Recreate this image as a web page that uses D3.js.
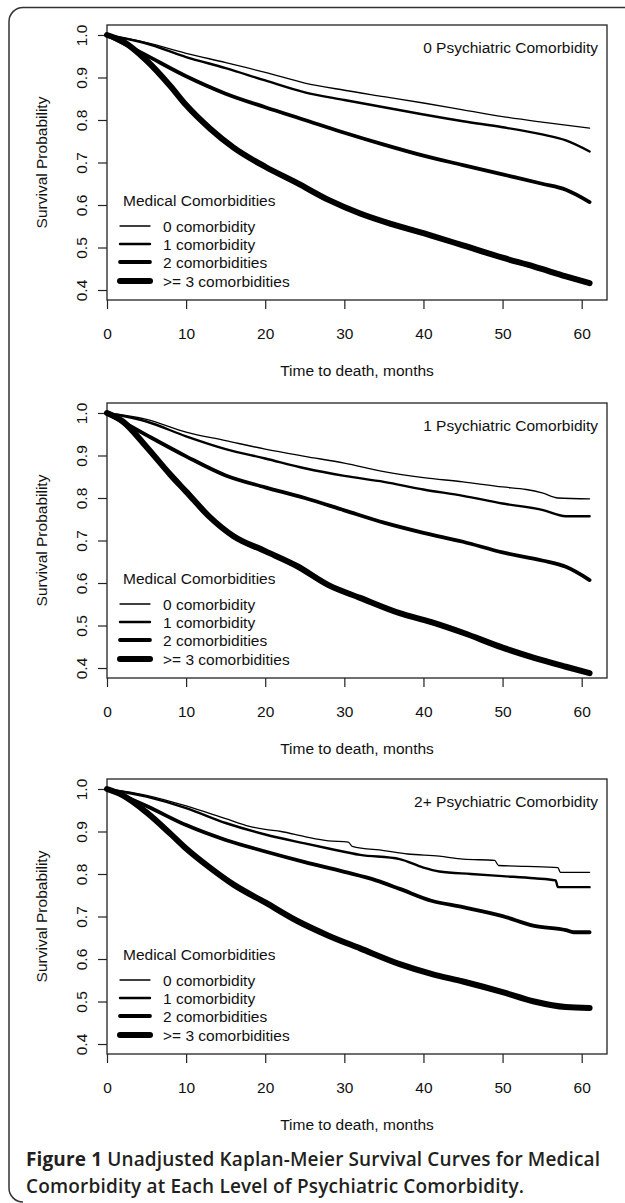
<!DOCTYPE html>
<html>
<head>
<meta charset="utf-8">
<script src="https://cdn.jsdelivr.net/npm/d3@7"></script>
<style>
body { margin:0; background:#fff; }
svg { display:block; }
</style>
</head>
<body>
<div id="chart"></div>
<script>
// panel titles, legend labels, ticks
let panelTitles = ["0 Psychiatric Comorbidity", "1 Psychiatric Comorbidity", "2+ Psychiatric Comorbidity"];
let legendTitle = "Medical Comorbidities";
let legendLabels = ["0 comorbidity", "1 comorbidity", "2 comorbidities", ">= 3 comorbidities"];
let xTicks = [0, 10, 20, 30, 40, 50, 60];
let yTicks = [0.4, 0.5, 0.6, 0.7, 0.8, 0.9, 1.0];

// [month, survival probability]
// 0 psychiatric comorbidity
let psy0med0 = [[0,1],[5,0.982],[10,0.957],[15,0.935],[20,0.912],[25,0.887],[30,0.870],[35,0.855],[40,0.840],[45,0.824],[50,0.808],[55,0.795],[61,0.781]];
let psy0med1 = [[0,1],[5,0.980],[10,0.948],[15,0.922],[20,0.893],[25,0.865],[30,0.847],[35,0.830],[40,0.813],[45,0.797],[50,0.783],[55,0.766],[58,0.752],[61,0.726]];
let psy0med2 = [[0,1],[5,0.952],[10,0.903],[15,0.862],[20,0.830],[25,0.800],[30,0.770],[35,0.742],[40,0.716],[45,0.694],[50,0.672],[55,0.650],[58,0.636],[61,0.607]];
let psy0med3 = [[0,1],[2,0.985],[5,0.940],[8,0.880],[10,0.835],[13,0.780],[16,0.735],[20,0.690],[24,0.652],[28,0.612],[32,0.580],[36,0.555],[41,0.528],[45,0.505],[50,0.476],[54,0.455],[58,0.432],[61,0.416]];
// 1 psychiatric comorbidity
let psy1med0 = [[0,1],[5,0.985],[10,0.955],[15,0.935],[20,0.915],[25,0.898],[30,0.882],[35,0.862],[40,0.848],[45,0.838],[50,0.826],[53,0.820],[55,0.812],[57,0.800],[61,0.798]];
let psy1med1 = [[0,1],[5,0.980],[10,0.945],[15,0.915],[20,0.893],[25,0.870],[30,0.852],[35,0.838],[40,0.820],[45,0.805],[50,0.787],[55,0.772],[58,0.757],[61,0.757]];
let psy1med2 = [[0,1],[5,0.948],[10,0.898],[15,0.853],[20,0.825],[25,0.800],[30,0.771],[35,0.742],[40,0.718],[45,0.697],[50,0.672],[55,0.653],[58,0.638],[61,0.607]];
let psy1med3 = [[0,1],[2,0.980],[5,0.920],[8,0.855],[10,0.815],[13,0.755],[16,0.710],[20,0.675],[24,0.640],[28,0.595],[32,0.565],[37,0.529],[41,0.508],[45,0.483],[50,0.448],[54,0.424],[58,0.403],[61,0.388]];
// 2+ psychiatric comorbidity
let psy2med0 = [[0,1],[5,0.985],[10,0.960],[15,0.930],[18,0.912],[20,0.905],[22,0.900],[25,0.888],[28,0.878],[30.5,0.875],[31,0.865],[35,0.855],[38,0.847],[42,0.842],[45,0.835],[49,0.832],[49.5,0.820],[53,0.818],[57,0.815],[57.3,0.804],[61,0.804]];
let psy2med1 = [[0,1],[5,0.982],[10,0.955],[15,0.920],[20,0.893],[25,0.872],[28,0.860],[32,0.845],[37,0.835],[40,0.815],[42,0.806],[46,0.800],[50,0.795],[54,0.790],[56.7,0.785],[57,0.769],[61,0.769]];
let psy2med2 = [[0,1],[5,0.960],[10,0.915],[15,0.880],[20,0.853],[25,0.828],[30,0.805],[34,0.785],[37,0.765],[41,0.737],[45,0.722],[50,0.701],[54,0.678],[58,0.668],[59,0.663],[61,0.663]];
let psy2med3 = [[0,1],[2,0.985],[5,0.945],[8,0.895],[10,0.860],[13,0.815],[16,0.775],[20,0.733],[24,0.690],[28,0.655],[32,0.625],[37,0.588],[41,0.565],[45,0.547],[50,0.522],[54,0.500],[58,0.487],[61,0.485]];

let panelCurves = [
    [psy0med0, psy0med1, psy0med2, psy0med3],
    [psy1med0, psy1med1, psy1med2, psy1med3],
    [psy2med0, psy2med1, psy2med2, psy2med3]
];

let width = 625,
    height = 1203;

let plotMargin = { left: 107, right: 18 },
    panelTops = [25, 403, 779],
    plotWidth = width - plotMargin.left - plotMargin.right,
    plotHeight = 275;

let lineWidths = [1.3, 2.4, 3.8, 6];
let rFont = "'Liberation Sans', Arial, sans-serif";
let fontSize = 15.5;

let xScale = d3.scaleLinear()
    .domain([0, 63.2])
    .range([0, plotWidth]);

let yScale = d3.scaleLinear()
    .domain([0.3765, 1.0235])
    .range([plotHeight, 0]);

let line = d3.line()
    .x(function(d) { return xScale(d[0]) })
    .y(function(d) { return yScale(d[1]) })
    .curve(d3.curveMonotoneX);

let svg = d3.select("#chart")
    .append("svg")
    .attr("width", width)
    .attr("height", height);

// outer frame (open on right and bottom)
svg.append("path")
    .attr("d", "M625,7.5 H23 A14,14 0 0 0 9,21.5 V1188 A14,14 0 0 0 23,1202")
    .attr("fill", "none")
    .attr("stroke", "#333")
    .attr("stroke-width", 1.5);

panelCurves.forEach(function(curves, i) {
    let chart = svg.append("g")
        .attr("transform", "translate(" + plotMargin.left + "," + panelTops[i] + ")");

    // x axis
    let xAxis = chart.append("g")
        .attr("transform", "translate(0," + plotHeight + ")")
        .call(d3.axisBottom(xScale).tickValues(xTicks).tickSize(9).tickFormat(d3.format("d")));
    xAxis.select(".domain").remove();
    xAxis.selectAll("line").attr("stroke", "#222").attr("stroke-width", 1.2);
    xAxis.selectAll("text")
        .attr("y", 38.5)
        .attr("dy", null)
        .attr("font-family", rFont)
        .attr("font-size", fontSize)
        .attr("fill", "#111");

    // y axis
    let yAxis = chart.append("g")
        .call(d3.axisLeft(yScale).tickValues(yTicks).tickSize(9).tickFormat(d3.format(".1f")));
    yAxis.select(".domain").remove();
    yAxis.selectAll("line").attr("stroke", "#222").attr("stroke-width", 1.2);
    yAxis.selectAll("text")
        .attr("x", null)
        .attr("dy", null)
        .attr("transform", "translate(-20,0) rotate(-90)")
        .attr("text-anchor", "middle")
        .attr("font-family", rFont)
        .attr("font-size", fontSize)
        .attr("fill", "#111");

    // box
    chart.append("rect")
        .attr("x", 0)
        .attr("y", 0)
        .attr("width", plotWidth)
        .attr("height", plotHeight)
        .attr("fill", "none")
        .attr("stroke", "#222")
        .attr("stroke-width", 1.3);

    // curves
    chart.selectAll(".curve")
        .data(curves)
        .enter().append("path")
        .attr("class", "curve")
        .attr("d", line)
        .attr("fill", "none")
        .attr("stroke", "#000")
        .attr("stroke-linejoin", "round")
        .attr("stroke-linecap", "round")
        .attr("stroke-width", function(d, j) { return lineWidths[j] });

    // panel title
    chart.append("text")
        .attr("x", plotWidth - 9)
        .attr("y", 27.5)
        .attr("text-anchor", "end")
        .attr("font-family", rFont)
        .attr("font-size", fontSize)
        .attr("fill", "#111")
        .text(panelTitles[i]);

    // axis titles
    chart.append("text")
        .attr("x", plotWidth / 2)
        .attr("y", plotHeight + 75.5)
        .attr("text-anchor", "middle")
        .attr("font-family", rFont)
        .attr("font-size", fontSize)
        .attr("fill", "#111")
        .text("Time to death, months");

    chart.append("text")
        .attr("transform", "translate(-60," + plotHeight / 2 + ") rotate(-90)")
        .attr("text-anchor", "middle")
        .attr("font-family", rFont)
        .attr("font-size", fontSize)
        .attr("fill", "#111")
        .text("Survival Probability");

    // legend
    let legend = chart.append("g");
    legend.append("text")
        .attr("x", 16)
        .attr("y", 180.5)
        .attr("font-family", rFont)
        .attr("font-size", fontSize)
        .attr("fill", "#111")
        .text(legendTitle);

    let rowY = [201, 219, 237, 256];
    legend.selectAll(".key")
        .data(legendLabels)
        .enter().append("line")
        .attr("class", "key")
        .attr("x1", 13)
        .attr("x2", 43)
        .attr("y1", function(d, j) { return rowY[j] })
        .attr("y2", function(d, j) { return rowY[j] })
        .attr("stroke", "#000")
        .attr("stroke-linecap", "round")
        .attr("stroke-width", function(d, j) { return lineWidths[j] });

    legend.selectAll(".keylabel")
        .data(legendLabels)
        .enter().append("text")
        .attr("class", "keylabel")
        .attr("x", 56)
        .attr("y", function(d, j) { return rowY[j] + 5.5 })
        .attr("font-family", rFont)
        .attr("font-size", fontSize)
        .attr("fill", "#111")
        .text(function(d) { return d });
});

// caption
let captionFont = "'Open Sans', 'Noto Sans', sans-serif";
let cap1 = svg.append("text")
    .attr("x", 26)
    .attr("y", 1166)
    .attr("font-family", captionFont)
    .attr("font-size", 19)
    .attr("font-weight", 600)
    .attr("fill", "#231f20")
    .attr("textLength", 574)
    .attr("lengthAdjust", "spacing");
cap1.append("tspan").attr("font-weight", 700).text("Figure 1 ");
cap1.append("tspan").text("Unadjusted Kaplan-Meier Survival Curves for Medical");

svg.append("text")
    .attr("x", 26)
    .attr("y", 1193)
    .attr("font-family", captionFont)
    .attr("font-size", 19)
    .attr("font-weight", 600)
    .attr("fill", "#231f20")
    .attr("textLength", 498)
    .attr("lengthAdjust", "spacing")
    .text("Comorbidity at Each Level of Psychiatric Comorbidity.");
</script>
</body>
</html>
